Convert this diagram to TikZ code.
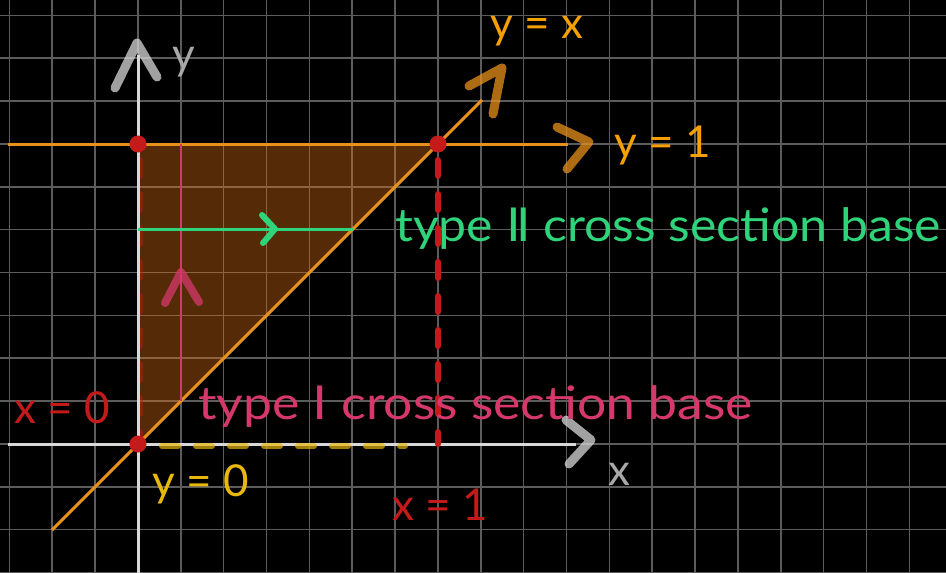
\documentclass[tikz,border=0pt]{standalone}
\usepackage{fontspec}
\setmainfont{Lato}
\newfontfamily\romf{DejaVu Sans}
\definecolor{gridc}{HTML}{5C5C5C}
\definecolor{axisc}{HTML}{D8D8D8}
\definecolor{orangeL}{HTML}{E8901C}
\definecolor{orangeT}{HTML}{F5A000}
\definecolor{redc}{HTML}{C41A1A}
\definecolor{pinkc}{HTML}{D6386C}
\definecolor{greenc}{HTML}{2FD47A}
\definecolor{yellowc}{HTML}{E8B80F}
\definecolor{grayT}{HTML}{A8A8A8}
\definecolor{fillc}{HTML}{E07014}
\tikzset{
  gridline/.style={draw=gridc, line width=1.6pt},
  axisline/.style={draw=axisc, line width=3pt},
  handtip/.style={line width=9pt, line cap=round, line join=round, draw opacity=0.75},
  curve/.style={draw=orangeL, line width=3pt},
  dot/.style={circle, fill=redc, inner sep=0pt, minimum size=17pt},
  lbl/.style={inner sep=0pt, font=\fontsize{44}{48}\selectfont},
  biglbl/.style={inner sep=0pt, font=\fontsize{46}{50}\selectfont},
  dashline/.style={line width=6pt, line cap=round, dash pattern=on 16pt off 18pt},
}
\begin{document}
\begin{tikzpicture}[x=1pt,y=-1pt]
\fill[black] (0,0) rectangle (946,573);
\useasboundingbox (0,0) rectangle (946,573);
% grid
\foreach \i in {0,...,22} \draw[gridline] ({9.3+42.86*\i},0) -- ++(0,573);
\foreach \j in {0,...,13} \draw[gridline] (0,{15.3+42.86*\j}) -- ++(946,0);
% key points
\coordinate (O) at (138,444);
\coordinate (Q) at (138,144);
\coordinate (P) at (438,144);
\coordinate (R) at (438,444);
% shaded region
\fill[fillc, fill opacity=0.38] (Q) -- (P) -- (O) -- cycle;
% faint red dashed x=0
\draw[dashline, draw=redc, draw opacity=0.45] (140,160) -- (140,436);
% axes
\coordinate (xl) at (8,444);
\coordinate (xr) at (576,444);
\coordinate (yb) at (138,573);
\coordinate (yt) at (138,55);
\draw[axisline] (xl) -- (xr);
\draw[axisline] (yb) -- (yt);
\draw[handtip, draw=axisc] (115,88) -- (137,43) -- (157,77);
\draw[handtip, draw=axisc] (566,420) -- (591,440) -- (569,464);
% yellow dashed y=0
\draw[dashline, draw=yellowc, draw opacity=0.7] (162,446) -- (405,446);
% red dashed x=1
\draw[dashline, draw=redc] (438,160) -- (R);
% y = 1
\coordinate (y1l) at (8,144);
\coordinate (y1r) at (568,144);
\draw[curve] (y1l) -- (y1r);
\draw[handtip, draw=orangeL] (557,127) -- (589,142) -- (567,169);
% y = x
\coordinate (yxl) at (52,530);
\coordinate (yxr) at (482,100);
\draw[curve] (yxl) -- (yxr);
\draw[handtip, draw=orangeL] (469,86) -- (502,68) -- (493,114);
% type I line
\coordinate (p1) at (181,401);
\coordinate (p2) at (181,144);
\draw[draw=pinkc, line width=2.5pt] (p1) -- (p2);
\draw[handtip, draw=pinkc, line width=8pt] (165,303) -- (181,272) -- (199,302);
% type II line
\coordinate (g1) at (138,229);
\coordinate (g2) at (353,229);
\draw[draw=greenc, line width=3pt] (g1) -- (g2);
\draw[draw=greenc, line width=6pt, line cap=round, line join=round] (262,215) -- (275,229) -- (263,243);
% dots
\node[dot] (dQ) at (Q) {};
\node[dot] (dP) at (P) {};
\node[dot] (dO) at (O) {};
% labels
\node[lbl, text=grayT] (ylab) at (184,62) {y};
\node[lbl, text=grayT] (xlab) at (619,474) {x};
\node[lbl, text=orangeT] (yxlab) at (537,31) {y = x};
\node[lbl, text=orangeT] (y1lab) at (663,145) {y = 1};
\node[lbl, text=redc] (x0lab) at (62,408) {x = 0};
\node[lbl, text=yellowc] (y0lab) at (201,484) {y = 0};
\node[lbl, text=redc] (x1lab) at (440,505) {x = 1};
\node[biglbl, text=greenc, anchor=west] (t2) at (395,229) {\scalebox{1.086}[1]{type {\romf Ⅱ} cross section base}};
\node[biglbl, text=pinkc, anchor=west] (t1) at (198,407) {\scalebox{1.124}[1]{type {\romf Ⅰ} cross section base}};
\end{tikzpicture}
\end{document}
